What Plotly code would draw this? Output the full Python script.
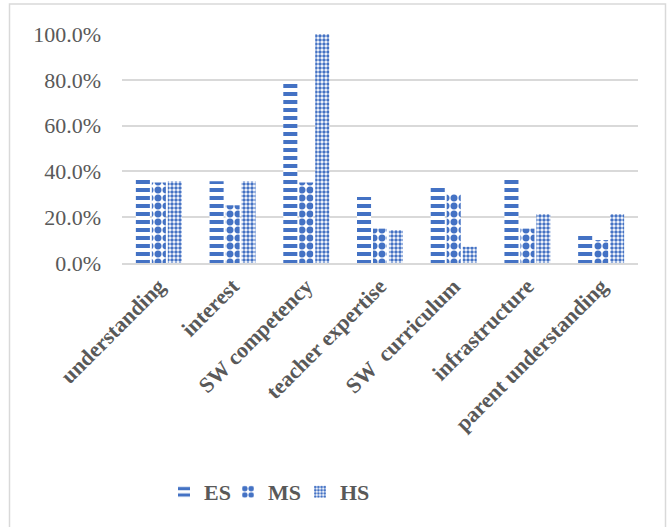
import plotly.graph_objects as go

categories = ["understanding", "interest", "SW competency", "teacher expertise",
              "SW  curriculum", "infrastructure", "parent understanding"]
es = [0.372, 0.357, 0.792, 0.288, 0.329, 0.371, 0.122]
ms = [0.351, 0.252, 0.351, 0.150, 0.301, 0.150, 0.100]
hs = [0.357, 0.357, 1.000, 0.144, 0.071, 0.214, 0.214]
series = [("ES", es, "-", 8, 0.5, "legend"), ("MS", ms, ".", 8, 0.6, "legend2"),
          ("HS", hs, ".", 4, 0.6, "legend3")]

BLUE = "#4472C4"
GRAY = "#595959"
FONT = "Liberation Serif"

fig = go.Figure()
for name, vals, shape, size, sol, leg in series:
    fig.add_trace(go.Bar(
        x=categories, y=vals, name=name, legend=leg,
        marker=dict(color="white", line=dict(width=0),
                    pattern=dict(shape=shape, fgcolor=BLUE, bgcolor="white",
                                 size=size, solidity=sol, fillmode="replace")),
    ))

W, H = 667, 527
L, R, T, B = 122, 29, 34, 264
pw, ph = W - L - R, H - T - B

def px(x):
    return (x - L) / pw

def py(y):
    return (H - B - y) / ph

fig.add_shape(type="rect", xref="paper", yref="paper",
              x0=px(9.5), x1=px(665.5), y0=py(530), y1=py(4),
              line=dict(color="#D9D9D9", width=1.5), fillcolor="rgba(0,0,0,0)", layer="below")

def leg(xleft):
    return dict(orientation="h", x=px(xleft), xanchor="left", y=py(492), yanchor="middle",
                font=dict(family=FONT, size=22, color=GRAY, weight="bold"),
                itemwidth=30, bgcolor="rgba(0,0,0,0)")

fig.update_layout(
    width=W, height=H,
    margin=dict(l=L, r=R, t=T, b=B, autoexpand=False),
    paper_bgcolor="white", plot_bgcolor="white",
    barmode="group", bargap=0.35, bargroupgap=0.12,
    font=dict(family=FONT, color=GRAY, size=22),
    showlegend=True,
    legend=leg(164), legend2=leg(228), legend3=leg(300),
    xaxis=dict(tickangle=-45, tickfont=dict(family=FONT, size=22, color=GRAY, weight="bold"),
               showline=True, linecolor="#D9D9D9", linewidth=1.5, ticks="",
               showgrid=False, automargin=False),
    yaxis=dict(range=[0, 1.0], dtick=0.2, tickformat=".1%",
               tickfont=dict(family=FONT, size=22, color=GRAY),
               showgrid=True, gridcolor="#D9D9D9", gridwidth=1.5,
               zeroline=False, showline=False, ticks="", ticklen=0, automargin=False),
)
fig.update_yaxes(ticklabelstandoff=20)
fig.write_html("out.html", config={"displayModeBar": False},
               post_script="document.body.style.margin='0';document.body.style.overflow='hidden';")
